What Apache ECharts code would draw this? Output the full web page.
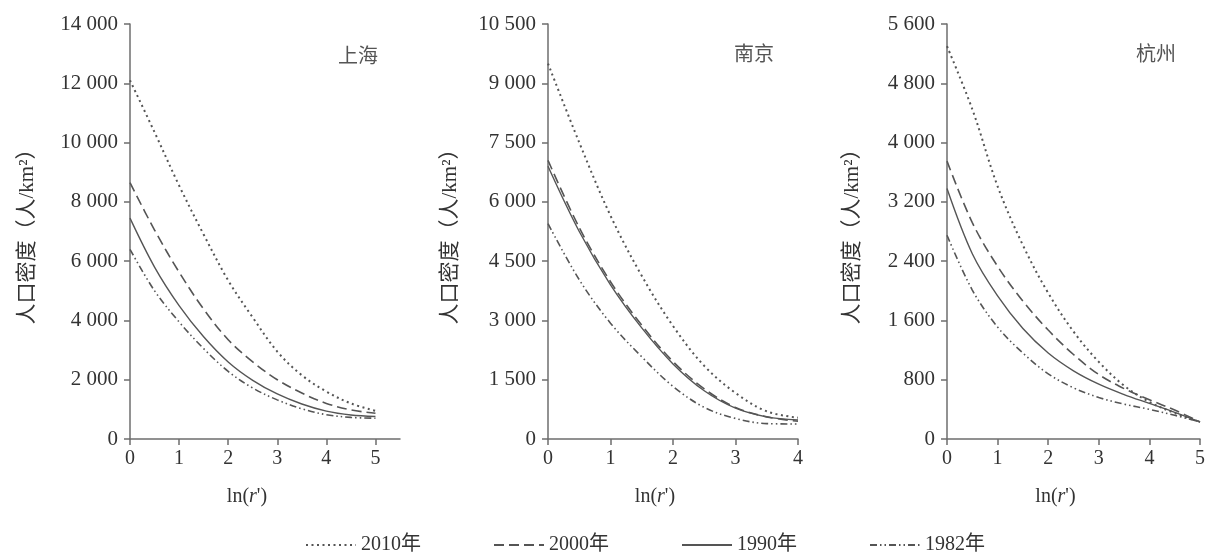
<!DOCTYPE html>
<html>

<head>
    <meta charset="utf-8">
    <title>人口密度</title>
    <script src="https://cdn.jsdelivr.net/npm/echarts@6.0.0/dist/echarts.min.js"></script>
    <style>
        html, body {
            margin: 0;
            padding: 0;
            background: #fff;
        }

        .chart {
            width: 1214px;
            height: 554px;
        }
    </style>
</head>

<body>

    <div id="main" class="chart"></div>

    <script type="text/javascript">

        // ln(r') 取值
        var xShanghai = [0, 0.5, 1, 1.5, 2, 2.5, 3, 3.5, 4, 4.5, 5];
        var xNanjing = [0, 0.5, 1, 1.5, 2, 2.5, 3, 3.5, 4];
        var xHangzhou = [0, 0.5, 1, 1.5, 2, 2.5, 3, 3.5, 4, 4.5, 5];

        // 上海
        var sh2010 = [12100, 10350, 8550, 6900, 5350, 4100, 2950, 2150, 1600, 1200, 950];
        var sh2000 = [8650, 7050, 5630, 4380, 3350, 2600, 2000, 1550, 1200, 980, 870];
        var sh1990 = [7450, 5800, 4500, 3450, 2600, 1980, 1520, 1180, 940, 810, 760];
        var sh1982 = [6400, 5000, 3950, 3050, 2280, 1720, 1320, 1020, 820, 730, 700];

        // 南京
        var nj2010 = [9500, 7500, 5650, 4130, 2860, 1850, 1165, 700, 540];
        var nj2000 = [7050, 5350, 3980, 2880, 1960, 1270, 800, 560, 450];
        var nj1990 = [6900, 5250, 3900, 2810, 1900, 1220, 780, 560, 480];
        var nj1982 = [5450, 4030, 2930, 2080, 1330, 800, 520, 390, 380];

        // 杭州
        var hz2010 = [5300, 4450, 3410, 2615, 1970, 1450, 1040, 720, 500, 350, 230];
        var hz2000 = [3750, 2920, 2330, 1860, 1470, 1140, 870, 680, 530, 390, 230];
        var hz1990 = [3380, 2500, 1930, 1490, 1160, 920, 740, 600, 480, 360, 230];
        var hz1982 = [2750, 2010, 1510, 1160, 880, 690, 560, 470, 400, 320, 230];

        var years = ['2010年', '2000年', '1990年', '1982年'];
        var yTicks = [
            { max: 14000, interval: 2000 },
            { max: 10500, interval: 1500 },
            { max: 5600, interval: 800 }
        ];
        var cities = ['上海', '南京', '杭州'];

        var serif = 'Liberation Serif, Noto Sans CJK SC';
        var lineColor = '#555';
        var axisColor = '#6e6e6e';
        var textColor = '#333';

        var styles = {
            '2010年': { type: [2, 3.5], width: 2 },
            '2000年': { type: [10, 5], width: 1.6 },
            '1990年': { type: 'solid', width: 1.4 },
            '1982年': { type: [7, 3, 1.5, 3, 1.5, 3], width: 1.6 }
        };

        function fmt(v) {
            if (v < 1000) return String(v);
            var k = Math.floor(v / 1000);
            var r = v % 1000;
            return k + ' ' + String(r).padStart(3, '0');
        }

        function pairs(xs, ys) {
            var out = [];
            for (var i = 0; i < xs.length; i++) {
                out.push([xs[i], ys[i]]);
            }
            return out;
        }

        var grids = [
            { left: 130, top: 24, width: 270, height: 415 },
            { left: 548, top: 24, width: 250, height: 415 },
            { left: 947, top: 24, width: 253, height: 415 }
        ];
        var xMax = [5.5, 4, 5];
        var nameGaps = [92, 87, 84];

        var xAxes = [];
        var yAxes = [];
        for (var g = 0; g < 3; g++) {
            var xa = {
                type: 'value',
                gridIndex: g,
                min: 0,
                max: xMax[g],
                interval: 1,
                name: 'ln({i|r}\')',
                nameLocation: 'middle',
                nameGap: 48,
                nameTextStyle: {
                    fontFamily: serif,
                    fontSize: 20,
                    color: textColor,
                    padding: [0, 36, 0, 0],
                    rich: {
                        i: { fontFamily: serif, fontSize: 20, fontStyle: 'italic', color: textColor }
                    }
                },
                axisLine: { lineStyle: { color: axisColor, width: 1.5 } },
                axisTick: { show: true, length: 6, lineStyle: { color: axisColor, width: 1.5 } },
                axisLabel: { fontFamily: serif, fontSize: 20, color: textColor, margin: 10 },
                splitLine: { show: false }
            };
            if (g === 0) {
                xa.axisTick.customValues = [0, 1, 2, 3, 4, 5];
                xa.axisLabel.customValues = [0, 1, 2, 3, 4, 5];
            }
            xAxes.push(xa);

            yAxes.push({
                type: 'value',
                gridIndex: g,
                min: 0,
                max: yTicks[g].max,
                interval: yTicks[g].interval,
                name: '人口密度（人/km²）',
                nameLocation: 'middle',
                nameGap: nameGaps[g],
                nameTextStyle: { fontFamily: serif, fontSize: 21, color: textColor },
                axisLine: { show: true, lineStyle: { color: axisColor, width: 1.5 } },
                axisTick: { show: true, length: 6, lineStyle: { color: axisColor, width: 1.5 } },
                axisLabel: { fontFamily: serif, fontSize: 21, color: textColor, margin: 12, formatter: fmt },
                splitLine: { show: false }
            });
        }

        var allData = [
            [xShanghai, [sh2010, sh2000, sh1990, sh1982]],
            [xNanjing, [nj2010, nj2000, nj1990, nj1982]],
            [xHangzhou, [hz2010, hz2000, hz1990, hz1982]]
        ];

        var series = [];
        for (var c = 0; c < 3; c++) {
            for (var s = 0; s < 4; s++) {
                var st = styles[years[s]];
                series.push({
                    name: years[s],
                    type: 'line',
                    xAxisIndex: c,
                    yAxisIndex: c,
                    data: pairs(allData[c][0], allData[c][1][s]),
                    smooth: 0.35,
                    symbol: 'none',
                    showSymbol: false,
                    lineStyle: { color: lineColor, width: st.width, type: st.type },
                    itemStyle: { color: lineColor },
                    z: 4 - s
                });
            }
        }

        var myChart = echarts.init(document.getElementById('main'));

        var option = {
            animation: false,
            backgroundColor: '#fff',
            title: [
                { text: cities[0], left: 333, top: 40 },
                { text: cities[1], left: 729, top: 38 },
                { text: cities[2], left: 1131, top: 38 }
            ].map(function (t) {
                t.textStyle = { fontFamily: 'Noto Sans CJK SC', fontSize: 20, fontWeight: 'normal', color: '#555' };
                return t;
            }),
            legend: {
                data: years,
                left: 300,
                top: 530,
                itemWidth: 50,
                itemHeight: 14,
                itemGap: 72,
                itemStyle: { opacity: 0 },
                textStyle: { fontFamily: serif, fontSize: 20, color: textColor }
            },
            grid: grids,
            xAxis: xAxes,
            yAxis: yAxes,
            series: series
        };

        myChart.setOption(option);

    </script>
</body>

</html>
